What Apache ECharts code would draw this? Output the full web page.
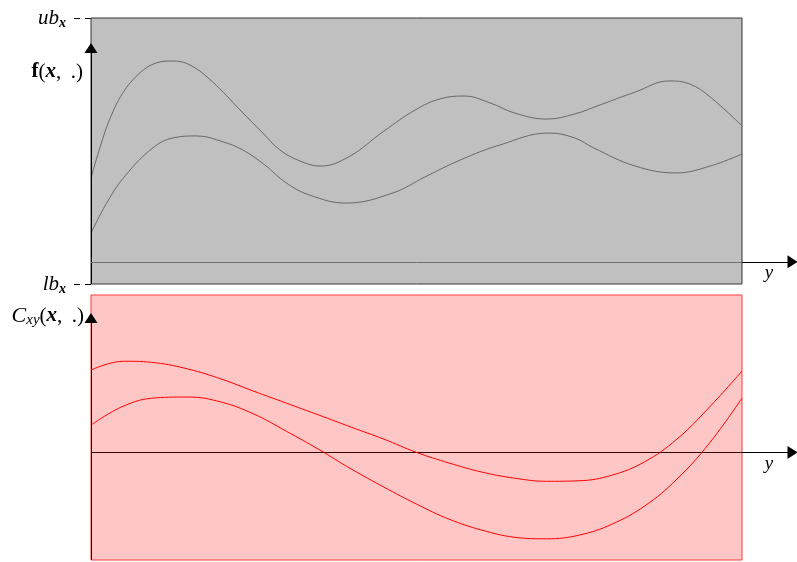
<!DOCTYPE html>
<html><head><meta charset="utf-8">
<script src="https://cdn.jsdelivr.net/npm/echarts@6/dist/echarts.min.js"></script>
<style>html,body{margin:0;padding:0;background:#fff}#c{width:797px;height:562px}</style>
</head><body><div id="c"></div>
<script>
// ---- data (panel units: x box 0..10; top y: lb=0, ub=12; bottom y: 0 on the y-axis line) ----
const topTicks = [0, 12];               // lb_x, ub_x
const topTickLabels = ['lb', 'ub'];
const fUpper = [[0,4.78],[0.14,6.18],[0.29,7.45],[0.49,8.62],[0.75,9.52],[1.0,9.97],[1.24,10.06],[1.52,9.88],[1.87,9.11],[2.29,7.85],[2.64,6.81],[2.90,6.05],[3.21,5.55],[3.52,5.32],[3.96,5.74],[4.5,6.90],[4.98,7.85],[5.36,8.35],[5.73,8.48],[6.13,8.17],[6.51,7.71],[7.0,7.44],[7.43,7.67],[7.82,8.08],[8.36,8.66],[8.88,9.16],[9.2,9.02],[9.51,8.44],[10,7.13]];
const fLower = [[0,2.30],[0.26,3.75],[0.53,4.90],[0.95,6.14],[1.26,6.59],[1.63,6.68],[2.03,6.41],[2.33,6.05],[2.67,5.37],[3.0,4.56],[3.36,4.01],[3.92,3.65],[4.64,4.11],[5.13,4.83],[5.67,5.59],[6.28,6.27],[7.03,6.81],[7.43,6.59],[7.72,6.14],[8.36,5.32],[8.99,5.01],[9.51,5.32],[10,5.86]];
const cUpper = [[0,3.11],[0.5,3.44],[1.0,3.38],[1.5,3.14],[2.0,2.77],[2.5,2.31],[3.0,1.86],[3.5,1.41],[4.0,0.95],[4.5,0.50],[5.0,0],[5.5,-0.40],[6.0,-0.74],[6.5,-0.97],[7.0,-1.09],[7.5,-1.07],[8.0,-0.86],[8.5,-0.36],[9.0,0.50],[9.5,1.71],[10,3.07]];
const cLower = [[0,1.03],[0.5,1.75],[1.0,2.06],[1.5,2.09],[2.0,1.90],[2.5,1.45],[3.0,0.80],[3.5,0.11],[4.0,-0.63],[4.5,-1.31],[5.0,-1.95],[5.5,-2.52],[6.0,-2.93],[6.5,-3.20],[7.0,-3.26],[7.5,-3.12],[8.0,-2.71],[8.5,-2.03],[9.0,-1.01],[9.5,0.35],[10,2.05]];
const boxX = [0, 10];
const topAxisY = 1;      // horizontal axis line in top panel
const topArrowY = 10.65;
const botBoxY = [-4.06, 5.94];
const botArrowY = 5.07;
const xEnd = 10.845, xArrow = 10.776;

const serif = 'Liberation Serif';
const chart = echarts.init(document.getElementById('c'), null, {renderer: 'canvas'});

function seg(gi, from, to, color, arrow) {
  return {type: 'line', xAxisIndex: gi, yAxisIndex: gi, data: [], z: 4, silent: true,
    markLine: {
      silent: true, animation: false, symbol: ['none', arrow ? 'triangle' : 'none'], symbolSize: [13, 10],
      lineStyle: {color: color, width: 1, type: 'solid'}, label: {show: false},
      itemStyle: {color: '#000'}, emphasis: {disabled: true},
      data: [[{coord: from}, {coord: to}]]
    }};
}
function curve(gi, data, color, z) {
  return {type: 'line', xAxisIndex: gi, yAxisIndex: gi, data: data, smooth: 0.4, symbol: 'none', z: z,
    lineStyle: {color: color, width: 1}, silent: true};
}
const tickRich = {
  m: {fontFamily: serif, fontStyle: 'italic', fontSize: 21, lineHeight: 24, color: '#000'},
  s: {fontFamily: serif, fontStyle: 'italic', fontWeight: 'bold', fontSize: 14, lineHeight: 16, color: '#000', verticalAlign: 'bottom'}
};
const TS = '\u2009';

chart.setOption({
  animation: false,
  grid: [
    {left: 91, right: 0, top: 18, height: 266},
    {left: 91, right: 0, top: 295, height: 265}
  ],
  xAxis: [
    {gridIndex: 0, type: 'value', min: 0, max: xEnd, show: false},
    {gridIndex: 1, type: 'value', min: 0, max: xEnd, show: false}
  ],
  yAxis: [
    {gridIndex: 0, type: 'value', min: topTicks[0], max: topTicks[1], interval: 12,
     axisLine: {show: false}, splitLine: {show: false},
     axisTick: {show: true, length: 17, lineStyle: {color: '#000', width: 1, type: [6, 5]}},
     axisLabel: {margin: 25, formatter: v => '{m|' + topTickLabels[topTicks.indexOf(v)] + '}{s|x}', rich: tickRich}},
    {gridIndex: 1, type: 'value', min: botBoxY[0], max: botBoxY[1], show: false}
  ],
  series: [
    // top panel
    {type: 'line', xAxisIndex: 0, yAxisIndex: 0, data: [], z: 1, silent: true,
     markArea: {silent: true, itemStyle: {color: '#c0c0c0', borderColor: '#333', borderWidth: 1},
       data: [[{coord: [boxX[0], topTicks[0]]}, {coord: [boxX[1], topTicks[1]]}]]}},
    curve(0, fUpper, '#686868', 3),
    curve(0, fLower, '#686868', 3),
    seg(0, [boxX[0], topTicks[0]], [boxX[0], topArrowY], '#000', true),
    seg(0, [boxX[0], topAxisY], [boxX[1], topAxisY], '#707070', false),
    seg(0, [boxX[1], topAxisY], [xArrow, topAxisY], '#000', true),
    // bottom panel
    {type: 'line', xAxisIndex: 1, yAxisIndex: 1, data: [], z: 1, silent: true,
     markArea: {silent: true, itemStyle: {color: '#ffc6c6', borderColor: '#ff3a3a', borderWidth: 1},
       data: [[{coord: [boxX[0], botBoxY[0]]}, {coord: [boxX[1], botBoxY[1]]}]]}},
    seg(1, [boxX[0], botBoxY[0]], [boxX[0], botArrowY], '#000', true),
    seg(1, [boxX[0], 0], [boxX[1], 0], '#3a0000', false),
    seg(1, [boxX[1], 0], [xArrow, 0], '#000', true),
    curve(1, cUpper, '#ff0000', 5),
    curve(1, cLower, '#ff0000', 5)
  ],
  graphic: [
    {type: 'text', x: 83, y: 72, z: 10, silent: true,
     style: {text: '{b|f}{r|(}{bx|x}{r|,' + TS + ' .)}', align: 'right', verticalAlign: 'middle',
       rich: {
         b: {fontFamily: serif, fontWeight: 'bold', fontSize: 21, lineHeight: 24, fill: '#000'},
         r: {fontFamily: serif, fontSize: 21, lineHeight: 24, fill: '#000'},
         bx: {fontFamily: serif, fontWeight: 'bold', fontStyle: 'italic', fontSize: 21, lineHeight: 24, fill: '#000'}
       }}},
    {type: 'text', x: 84, y: 316, z: 10, silent: true,
     style: {text: '{c|C}{s|xy}{r|(}{bx|x}{r|,' + TS + ' .)}', align: 'right', verticalAlign: 'middle',
       rich: {
         c: {fontFamily: serif, fontStyle: 'italic', fontSize: 22, lineHeight: 24, fill: '#000'},
         s: {fontFamily: serif, fontStyle: 'italic', fontSize: 15, lineHeight: 13, verticalAlign: 'bottom', fill: '#000'},
         r: {fontFamily: serif, fontSize: 21, lineHeight: 24, fill: '#000'},
         bx: {fontFamily: serif, fontWeight: 'bold', fontStyle: 'italic', fontSize: 21, lineHeight: 24, fill: '#000'}
       }}},
    {type: 'text', x: 769, y: 273, z: 10, silent: true,
     style: {text: 'y', align: 'center', verticalAlign: 'middle', fontFamily: serif, fontStyle: 'italic', fontSize: 19, fill: '#000'}},
    {type: 'text', x: 769, y: 464, z: 10, silent: true,
     style: {text: 'y', align: 'center', verticalAlign: 'middle', fontFamily: serif, fontStyle: 'italic', fontSize: 19, fill: '#000'}}
  ]
});
</script>
</body></html>
